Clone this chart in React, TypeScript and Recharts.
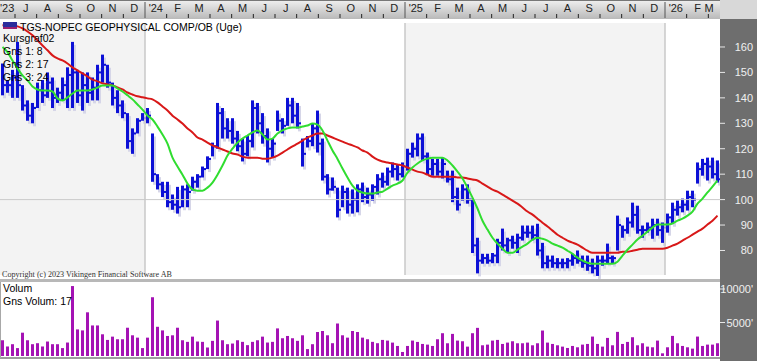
import { ComposedChart, Bar, Line, XAxis, YAxis, ReferenceArea, ReferenceLine } from 'recharts';

// weekly prices, week 0 = early June 2023
const HIGH = [
  153.5, 147, 151, 162, 145, 139, 138, 146, 147, 150,
  148, 144, 148, 152, 162, 151, 150, 150, 148, 153,
  157, 153, 146, 143, 139, 134, 128, 132, 134, 136,
  126, 110, 107, 107, 102, 105, 105.5, 106, 109, 110,
  113, 117, 122.4, 138, 136, 132, 132, 127, 124, 125,
  139, 138, 134, 128, 124, 135, 132, 140, 140, 138,
  124, 125, 130, 135, 124, 110, 108.7, 104.7, 105.5, 104.7,
  104, 106, 106.7, 104.7, 106, 110, 110.6, 112.6, 114.6, 114,
  114.6, 120, 122.4, 126, 126, 118.5, 116, 116, 116.5, 111.4,
  111.4, 104.7, 106, 106, 100.4, 85, 78.7, 78.7, 79, 84.6,
  88.6, 85, 85.8, 86.6, 89.8, 89.8, 89.8, 90.5, 83, 78,
  78, 77, 76.8, 77, 78.7, 80, 78, 78, 76.8, 78,
  78, 82.7, 78, 93.7, 89.8, 93, 98.8, 97.6, 89.8, 91,
  92.5, 92.5, 91, 94.5, 98.8, 99.6, 100.4, 103.5, 103.5, 114.6,
  116, 116.5, 116.5, 115.4,
];

const LOW = [
  141, 142, 140, 140, 135, 131, 130, 136, 138, 140,
  136, 138, 139, 136, 136, 138, 135, 138, 139, 139,
  146, 144, 137, 134, 132, 120, 118, 126, 131, 130,
  107, 104, 101, 97, 96, 94.5, 97, 97, 103.5, 104.7,
  108.7, 112, 117, 120, 124, 124, 122, 119, 115, 117,
  120.5, 126, 122, 114.6, 116.5, 127, 126, 129, 130, 128,
  113, 120.5, 121, 118.5, 107.5, 102, 103.5, 93, 97, 94.5,
  94.5, 95, 99, 98.4, 99.6, 102, 104.7, 105.5, 108.7, 107.5,
  108.7, 111.4, 116.5, 117, 115.4, 110, 109.4, 109.4, 108.3, 106.7,
  99, 95.7, 99.6, 98.4, 79, 71, 74.8, 74.8, 75, 75,
  80, 79, 80.7, 79, 83.9, 85, 84, 78, 73, 73,
  73.2, 73, 73, 73, 74, 74.8, 73.2, 72, 71, 70,
  74, 75, 74.8, 80, 85, 86.6, 89, 86.6, 85, 87,
  84.6, 85.8, 83, 87, 90.5, 93.7, 95, 95.7, 97, 106.3,
  109.4, 107.5, 108.3, 106.7,
];

const CLOSE = [
  145, 145, 148, 145, 137, 133, 136, 143, 141, 146,
  140, 142, 145, 149, 150, 141, 145, 142, 144, 150,
  153, 146, 140, 137, 134, 123, 126, 131, 132, 133,
  110, 106, 103, 99, 98, 97, 104, 103, 107, 109,
  112, 116, 121, 134, 128, 127, 124, 121, 118, 123,
  136, 130, 125, 120, 122, 131, 129, 137, 133, 130,
  118, 123, 128, 122, 109, 104, 105, 96, 103, 98,
  100, 104, 101, 102, 105, 108, 107, 111, 112, 110,
  113, 118, 120, 124, 117, 112, 114, 111, 114, 108,
  101, 98, 104, 100, 82, 76, 77, 76, 78, 83,
  82, 84, 83, 85, 87, 87, 86, 80, 75, 76,
  75, 75, 75, 76, 77, 76, 75, 74, 73, 76,
  76, 77, 77, 90, 88, 91, 94, 88, 88, 89,
  90, 88, 89, 93, 96, 97, 98, 101, 100, 112,
  114, 113, 110, 108,
];

// Gns 1: 8 (green)
const MA8 = [
  160, 158, 154.7, 151.6, 148.8, 146.9, 144.5, 143.3, 142.9, 142.9,
  142.5, 139.8, 139, 140.2, 141.7, 142.9, 142.9, 142.9, 143.3, 144,
  144.9, 144.9, 144.9, 143.7, 142.5, 141, 139.4, 137.4, 135.4, 133,
  131.5, 128.7, 125.6, 122, 116.5, 113, 109.8, 106.3, 104, 103.5,
  103.5, 104.7, 106.7, 109.8, 113.4, 117.3, 120, 122.4, 124, 125.2,
  126.4, 127.2, 125.6, 123.6, 124, 126, 127.2, 128, 128.3, 128.3,
  128.7, 129.1, 129.9, 129.5, 127.2, 123.2, 119.3, 116, 112.2, 108.7,
  105.5, 103.5, 102.8, 102.4, 102.4, 102.8, 103.1, 104.3, 105.5, 106.3,
  107.5, 110.6, 112.6, 114.2, 115.4, 116.1, 116.5, 116.5, 116.5, 115.4,
  113.4, 111, 108.3, 104.7, 100.8, 96.5, 91.7, 88.2, 85, 82.7,
  80.7, 79.1, 79.1, 80.3, 81.5, 82.7, 84.3, 85, 84.6, 83.9,
  82.7, 81.9, 81.1, 79.9, 78.7, 77.2, 76, 75.2, 74.8, 74.8,
  74.8, 74.8, 74.8, 75.6, 78, 80.3, 82.3, 84.3, 85.8, 87.4,
  89, 90.2, 90.2, 90.2, 90.6, 91.7, 92.5, 93.7, 95.3, 98.4,
  100.4, 102.8, 105.1, 107.5,
];

// Gns 2: 17 (red)
const MA17 = [
  168.5, 168.5, 168.5, 168.1, 167.3, 166.1, 164.6, 162.6, 160.6, 158.7,
  156.7, 155.5, 154.7, 153.5, 152, 150.8, 149.6, 148.4, 147.2, 146.5,
  145.7, 145.3, 144.9, 144.1, 143.3, 142.1, 141.3, 140.6, 140.2, 139.8,
  139.4, 138.2, 136.6, 135, 133, 131.5, 129.9, 128, 126.4, 124.4,
  123.6, 122.4, 121.3, 120.5, 119.7, 118.9, 118.1, 117.7, 116.9, 116.5,
  116.5, 116.5, 116.1, 116.1, 116.5, 117.3, 118.5, 119.7, 120.9, 122,
  123.2, 124.4, 125.2, 126, 126, 125.2, 124.4, 123.6, 122.8, 122,
  121.3, 120.5, 119.3, 118.5, 116.9, 115.7, 115, 114.6, 114.2, 113.8,
  113.4, 112.6, 111.8, 111, 110.6, 109.8, 109, 109, 109, 109,
  109, 108.7, 108.7, 108.3, 107.9, 107.5, 106.3, 105.1, 103.9, 103.1,
  102, 100.8, 99.6, 98.4, 96.9, 95.3, 94.1, 92.5, 90.9, 89.4,
  87.8, 86.2, 85, 83.9, 83.1, 82.3, 81.1, 79.9, 79.1, 79.1,
  79.1, 79.1, 79.1, 79.1, 79.5, 79.5, 79.9, 80.3, 80.7, 80.7,
  80.7, 80.7, 80.7, 81.1, 81.9, 82.7, 83.9, 85, 86.2, 87.4,
  88.6, 90.2, 91.7, 93.7,
];

const VOLUME = [
  2350, 1420, 1760, 1180, 3480, 2350, 1760, 1910, 1420, 2160,
  1760, 1760, 1180, 2010, 10440, 3970, 3820, 6520, 4560, 4560,
  3240, 2400, 2890, 2500, 2500, 4220, 3090, 2740, 1180, 2740,
  8770, 4360, 3820, 2990, 3090, 4220, 2350, 2110, 2890, 2160,
  2110, 1270, 2260, 5290, 2350, 1760, 1860, 2350, 2110, 1620,
  2110, 2350, 2890, 2010, 2110, 4120, 2650, 2990, 2650, 2260,
  3090, 1030, 1760, 3580, 3730, 3090, 1910, 4850, 3090, 2740,
  3730, 3580, 2740, 2500, 2110, 1910, 2400, 2300, 2000, 1500,
  600, 1500, 2300, 2100, 1800, 1700, 1500, 2500, 3400, 1900,
  3300, 2300, 2200, 1400, 3400, 4200, 1600, 1700, 2300, 2400,
  1800, 2000, 2200, 1900, 1900, 2000, 1600, 1900, 3800, 2000,
  1800, 1600, 1400, 1200, 1500, 1300, 1700, 1800, 2900, 1800,
  1400, 2700, 1600, 3600, 1800, 2100, 2800, 1600, 1900, 1400,
  1300, 2300, 400, 1300, 3000, 1900, 1500, 1300, 1100, 2900,
  1500, 1700, 1700, 1900,
];

const MONTH_LABELS = [
  "'23", 'J', 'A', 'S', 'O', 'N', 'D',
  "'24", 'F', 'M', 'A', 'M', 'J', 'J', 'A', 'S', 'O', 'N', 'D',
  "'25", 'F', 'M', 'A', 'M', 'J', 'J', 'A', 'S', 'O', 'N', 'D',
  "'26", 'F', 'M',
];
const PRICE_TICKS = [80, 90, 100, 110, 120, 130, 140, 150, 160];
const VOLUME_TICKS = [5000, 10000];

const LEGEND = ['Kursgraf02', 'Gns 1: 8', 'Gns 2: 17', 'Gns 3: 24'];

// week index where 2024 begins (boundary between bars)
const YEAR_2024 = 28.5;
const WEEKS_PER_MONTH = 52 / 12;
const WEEK_PX = 5;
const X_DOMAIN = [-0.5, 143.5];

const monthCenters = MONTH_LABELS.map((_, i) => YEAR_2024 + (i - 7 + 0.5) * WEEKS_PER_MONTH);
const yearStarts = [YEAR_2024, YEAR_2024 + 52, YEAR_2024 + 104];

const data = HIGH.map((h, i) => ({
  w: i,
  range: [LOW[i], h],
  close: CLOSE[i],
  ma8: MA8[i],
  ma17: MA17[i],
  vol: VOLUME[i],
}));

const FONT = "'Liberation Sans', Arial, sans-serif";
const SHADE_TOP = 169.4;
const SHADE_BOTTOM = 70.4;

function PriceBar(props: any) {
  const { x, y, width, height, payload } = props;
  if (x == null || y == null || !payload) return null;
  const top = Math.min(y, y + height);
  const h = Math.max(Math.abs(height), 1);
  const cx = x + width / 2;
  const [lo, hi] = payload.range;
  const cy = top + ((hi - payload.close) / (hi - lo)) * h;
  return (
    <g>
      <rect x={cx + 0.5} y={top + 3} width={3} height={h} fill="#d6d6e8" />
      <rect x={cx - 1.5} y={top} width={3} height={h} fill="#0c10d6" />
      <rect x={cx + 1.5} y={cy - 1} width={2} height={2} fill="#0c10d6" />
    </g>
  );
}

function VolBar(props: any) {
  const { x, y, width, height } = props;
  if (x == null || y == null) return null;
  const cx = x + width / 2;
  return <rect x={cx - 1.5} y={y} width={3} height={Math.max(height, 0)} fill="#a413b4" />;
}

function MonthTick(props: any) {
  const { x, index } = props;
  const label = MONTH_LABELS[index];
  if (label == null) return null;
  const isYear = label.startsWith("'");
  const bx = x - (WEEKS_PER_MONTH / 2) * WEEK_PX;
  const first = index === 0;
  return (
    <g>
      {!first && (
        <line x1={bx} x2={bx} y1={isYear ? 2 : 14} y2={18} stroke={isYear ? '#555' : '#222'} strokeWidth={1} />
      )}
      <text
        x={first ? 0 : Math.min(x, 709)}
        y={12}
        textAnchor={first ? 'start' : 'middle'}
        fontSize={11}
        fill="#222"
        fontFamily={FONT}
      >
        {label}
      </text>
    </g>
  );
}

function RightTick(props: any) {
  const { y, payload, suffix } = props;
  return (
    <text x={753} y={y} dy={4} textAnchor="end" fontSize={11} fill="#f0f0f0" fontFamily={FONT}>
      {payload.value}
      {suffix}
    </text>
  );
}

export default function App() {
  return (
    <div
      style={{
        position: 'absolute',
        left: 0,
        top: 0,
        width: 757,
        height: 361,
        background: '#fff',
        overflow: 'hidden',
      }}
    >
      <div
        style={{
          position: 'absolute',
          left: 0,
          top: 0,
          width: 720,
          height: 18,
          borderTop: '1px solid #777',
          background: 'linear-gradient(#ededed, #b9b9b9)',
        }}
      />
      <div style={{ position: 'absolute', left: 720, top: 0, width: 37, height: 19, background: '#d8d8d8' }} />
      <div style={{ position: 'absolute', left: 720, top: 19, width: 37, height: 342, background: '#6e6e6e' }} />
      <div style={{ position: 'absolute', left: 0, top: 279, width: 720, height: 3, background: '#b8b8b8' }} />
      <div style={{ position: 'absolute', left: 0, top: 357, width: 720, height: 2, background: '#9c9c9c' }} />
      <div style={{ position: 'absolute', left: 0, top: 282, width: 1, height: 76, background: '#a8a8a8' }} />

      <div style={{ position: 'absolute', left: 0, top: 0 }}>
        <ComposedChart width={757} height={281} data={data} margin={{ top: 0, right: 0, bottom: 0, left: 0 }}>
          <XAxis
            dataKey="w"
            type="number"
            orientation="top"
            domain={X_DOMAIN}
            allowDataOverflow
            height={19}
            ticks={monthCenters}
            interval={0}
            axisLine={false}
            tickLine={false}
            tick={<MonthTick />}
          />
          <YAxis
            orientation="right"
            width={37}
            domain={[68, 171]}
            allowDataOverflow
            ticks={PRICE_TICKS}
            interval={0}
            axisLine={false}
            tickSize={5}
            tickLine={{ stroke: '#e8e8e8' }}
            tick={<RightTick />}
          />
          <ReferenceArea x1={-0.5} x2={YEAR_2024} y1={SHADE_BOTTOM} y2={SHADE_TOP} fill="#f3f3f3" fillOpacity={1} stroke="none" />
          <ReferenceArea x1={yearStarts[1]} x2={yearStarts[2]} y1={SHADE_BOTTOM} y2={SHADE_TOP} fill="#f3f3f3" fillOpacity={1} stroke="none" />
          <ReferenceLine y={100} stroke="#cacaca" strokeWidth={1} />
          {yearStarts.map((ys) => (
            <ReferenceLine
              key={ys}
              segment={[{ x: ys, y: SHADE_BOTTOM }, { x: ys, y: SHADE_TOP }]}
              stroke="#c8c8c8"
              strokeWidth={1.5}
            />
          ))}
          <Bar dataKey="range" shape={<PriceBar />} barSize={3} isAnimationActive={false} />
          <Line type="monotone" dataKey="ma17" stroke="#d81818" strokeWidth={2} dot={false} isAnimationActive={false} />
          <Line type="monotone" dataKey="ma8" stroke="#30dd30" strokeWidth={2} dot={false} isAnimationActive={false} />
        </ComposedChart>
      </div>

      <div style={{ position: 'absolute', left: 0, top: 282 }}>
        <ComposedChart width={757} height={74} data={data} margin={{ top: 0, right: 0, bottom: 0, left: 0 }}>
          <XAxis dataKey="w" type="number" domain={X_DOMAIN} allowDataOverflow hide />
          <YAxis
            orientation="right"
            width={37}
            domain={[0, 11045]}
            allowDataOverflow
            ticks={VOLUME_TICKS}
            interval={0}
            axisLine={false}
            tickSize={5}
            tickLine={{ stroke: '#e8e8e8' }}
            tick={<RightTick suffix="'" />}
          />
          <Bar dataKey="vol" shape={<VolBar />} barSize={3} isAnimationActive={false} />
        </ComposedChart>
      </div>

      <svg width={757} height={361} style={{ position: 'absolute', left: 0, top: 0, pointerEvents: 'none' }}>
        <rect x={3} y={22} width={14} height={6} fill="#2b2c9c" />
        <rect x={3} y={27} width={14} height={2} fill="#9a2070" />
        <text x={20} y={31} fontSize={11} fontFamily={FONT} fill="#000" textLength={222} lengthAdjust="spacingAndGlyphs">
          TGS-NOPEC GEOPHYSICAL COMP/OB (Uge)
        </text>
        {LEGEND.map((t, i) => (
          <text key={t} x={3} y={42 + i * 13} fontSize={10.5} fontFamily={FONT} fill="#000">
            {t}
          </text>
        ))}
        <text x={2} y={277} fontSize={8.5} fontFamily="'Liberation Serif', 'Times New Roman', serif" fill="#333" textLength={170} lengthAdjust="spacingAndGlyphs">
          Copyright (c) 2023 Vikingen Financial Software AB
        </text>
        <text x={3} y={292} fontSize={10.5} fontFamily={FONT} fill="#000">
          Volum
        </text>
        <text x={3} y={305} fontSize={10.5} fontFamily={FONT} fill="#000">
          Gns Volum: 17
        </text>
      </svg>
    </div>
  );
}
